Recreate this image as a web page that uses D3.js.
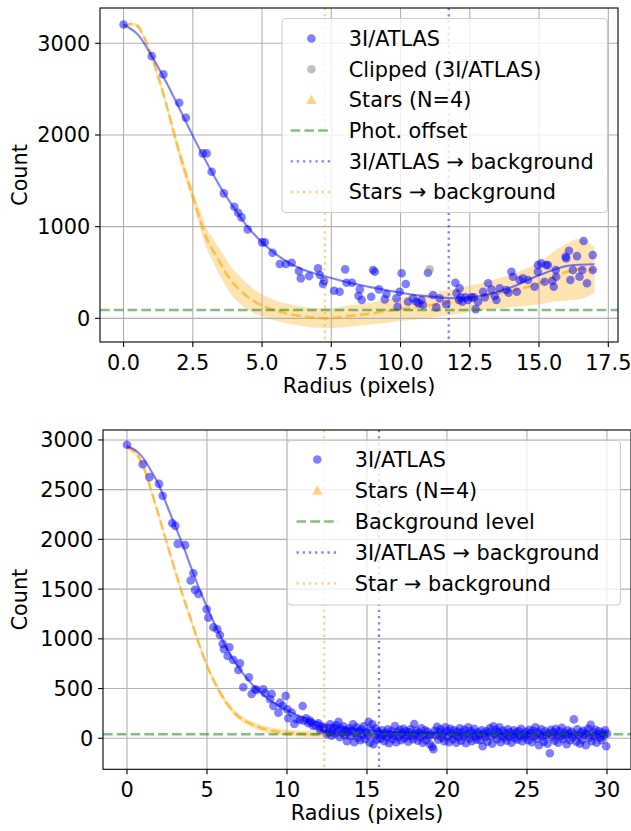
<!DOCTYPE html>
<html><head><meta charset="utf-8">
<script src="https://cdn.jsdelivr.net/npm/d3@7"></script>
<style>
html,body{margin:0;padding:0;background:#fff;}
svg{display:block;font-family:"DejaVu Sans",sans-serif;}
</style></head>
<body>
<svg id="c" width="631" height="831"></svg>
<script>
// ---------------- DATA: top panel ----------------
const topPtsR = [0,1.02,1.44,2.01,2.25,2.86,3.0,3.18,3.62,4.0,4.14,4.26,4.48,5.0,5.1,5.38,5.64,5.86,6.07,6.33,6.40,6.70,7.02,7.09,7.2,7.24,7.6,7.8,8.0,8.05,8.25,8.48,8.53,8.6,8.94,9.01,9.07,9.22,9.43,9.49,9.85,9.89,9.97,10.04,10.19,10.27,10.45,10.57,10.66,10.75,10.81,10.99,11.17,11.29,11.41,11.65,11.98,12.02,12.11,12.13,12.17,12.23,12.34,12.43,12.56,12.64,12.71,12.8,12.98,13.04,13.16,13.28,13.4,13.46,13.58,13.82,13.9,14.0,14.06,14.2,14.3,14.42,14.6,14.84,14.96,14.96,15.08,15.2,15.26,15.32,15.48,15.53,15.6,15.62,15.96,15.98,16.08,16.13,16.22,16.37,16.46,16.56,16.61,16.73,16.94,16.94];
const topPtsC = [3205,2860,2661,2351,2188,1799,1799,1599,1363,1217,1152,1101,970,829,829,716,592,592,606,516,436,461,545,472,374,407,301,290,534,388,388,246,316,200,236,527,508,316,207,265,218,127,290,491,374,181,218,181,164,200,145,497,254,120,218,153,388,273,200,327,229,181,229,200,229,229,101,181,290,229,382,316,243,200,327,309,279,508,454,290,418,436,418,345,581,508,600,399,581,581,407,345,527,454,672,654,737,418,527,679,454,527,843,382,690,527];
const topClipR = [11.05];
const topClipC = [534];
const topFitR = [0,0.5,1,1.5,2,2.5,3,3.5,4,4.5,5,5.5,6,6.5,7,8,9,10,11,12,13,14,15,16,17];
const topFitC = [3205,3100,2870,2600,2300,1990,1700,1430,1200,990,830,700,600,530,480,400,335,280,240,220,250,340,470,570,590];
const topStarR = [0,0.25,0.5,0.75,1,1.25,1.5,1.75,2,2.25,2.5,2.75,3,3.25,3.5,3.75,4,4.5,5,5.5,6,6.5,7,7.5,8,9,10,11,12,13,14,15,15.5,16,16.5,17];
const topStarC = [3170,3210,3190,3060,2870,2640,2380,2100,1820,1570,1330,1090,870,730,600,470,370,230,140,85,45,20,5,2,20,55,100,140,185,240,300,380,450,505,540,525];
const topStarLo = [3158,3195,3170,3035,2840,2605,2340,2050,1760,1500,1260,1000,760,600,455,320,220,90,20,-25,-63,-85,-103,-108,-95,-65,-30,5,45,90,120,150,180,195,210,275];
const topStarHi = [3182,3225,3210,3085,2900,2675,2420,2150,1880,1640,1400,1180,980,860,745,620,520,370,260,195,153,125,113,112,135,175,230,275,325,390,480,610,720,815,870,775];
const topBg = 90;
const topAtlasEdge = 11.74;
const topStarEdge = 7.27;
const topXTicks = [0,2.5,5,7.5,10,12.5,15,17.5];
const topYTicks = [0,1000,2000,3000];
const topLegend = ["3I/ATLAS","Clipped (3I/ATLAS)","Stars (N=4)","Phot. offset","3I/ATLAS \u2192 background","Stars \u2192 background"];

// ---------------- DATA: bottom panel ----------------
const botPtsR = [0,0.98,1.4,2.0,2.23,2.83,3.02,3.17,3.63,4.15,3.98,4.25,4.46,4.98,5.08,5.4,5.64,5.81,5.98,6.06,6.4,6.29,6.64,6.96,7.06,7.27,7.62,7.79,8.0,8.1,8.52,8.63,8.94,9.04,9.15,9.46,9.56,9.92,9.73,10.02,10.08,10.29,10.46,10.6,10.81,10.98,11.06,11.33,11.44,11.64,11.96,12.06,12.27,12.48,11.2,11.5,11.8,12.1,12.3,
12.55,12.62,12.7,12.78,12.85,12.93,13.0,13.08,13.15,13.22,13.3,13.37,13.45,13.52,13.6,13.68,13.75,13.83,13.9,13.98,14.05,14.13,14.2,14.28,14.35,14.43,14.5,14.58,14.65,14.73,14.8,14.88,14.95,15.03,15.1,15.18,15.25,15.33,15.4,15.48,15.55,15.63,15.7,15.78,15.85,15.93,16.0,16.08,16.15,16.23,16.3,16.38,16.45,16.53,16.6,16.68,16.75,16.83,16.9,16.98,17.05,17.13,17.2,17.28,17.35,17.43,17.5,17.58,17.65,17.73,17.8,17.88,17.95,18.03,18.1,18.18,18.25,18.33,18.4,18.48,18.55,18.63,18.7,18.78,18.85,18.93,19.0,19.08,19.15,19.23,19.3,19.38,19.45,19.53,19.6,19.68,19.75,19.83,19.9,19.98,20.05,20.13,20.2,20.28,20.35,20.43,20.5,20.58,20.65,20.73,20.8,20.88,20.95,21.03,21.1,21.18,21.25,21.33,21.4,21.48,21.55,21.63,21.7,21.78,21.85,21.93,22.0,22.08,22.15,22.23,22.3,22.38,22.45,22.53,22.6,22.68,22.75,22.83,22.9,22.98,23.05,23.13,23.2,23.28,23.35,23.43,23.5,23.58,23.65,23.73,23.8,23.88,23.95,24.03,24.1,24.18,24.25,24.33,24.4,24.48,24.55,24.63,24.7,24.78,24.85,24.93,25.0,25.08,25.15,25.23,25.3,25.38,25.45,25.53,25.6,25.68,25.75,25.83,25.9,25.98,26.05,26.13,26.2,26.28,26.35,26.43,26.5,26.58,26.65,26.73,26.8,26.88,26.95,27.03,27.1,27.18,27.25,27.33,27.4,27.48,27.55,27.63,27.7,27.78,27.85,27.93,28.0,28.08,28.15,28.23,28.3,28.38,28.45,28.53,28.6,28.68,28.75,28.83,28.9,28.98,29.05,29.13,29.2,29.28,29.35,29.43,29.5,29.58,29.65,29.73,29.8,29.88,29.95,30.0];
const botPtsC = [2951,2756,2626,2558,2438,2163,2136,1955,1942,1660,1586,1492,1452,1298,1213,1117,1097,1039,949,895,915,828,788,687,755,513,614,446,493,486,493,453,392,446,325,258,358,426,325,292,201,258,144,191,184,325,177,151,177,124,151,84,107,43,200,160,130,110,95,
90,60,140,25,75,110,45,130,70,165,10,95,55,120,30,80,-30,60,100,20,75,140,-40,50,110,5,70,-20,90,40,120,-10,60,30,165,-45,85,140,-60,20,100,-15,65,45,-5,80,35,-30,55,10,90,-50,40,70,-10,25,124,-40,60,15,85,-20,50,95,0,70,30,-35,60,90,20,-10,144,45,75,-25,55,10,100,-45,35,80,-20,65,20,-60,40,-85,-110,75,30,115,-15,60,90,5,45,-30,110,70,20,-40,95,50,-10,80,30,-45,65,10,100,-25,55,20,85,-50,40,110,0,70,-30,50,95,15,-15,60,35,-20,80,-80,45,10,70,-35,55,100,20,-55,120,40,85,-10,60,110,-40,30,75,5,50,-25,90,15,60,-45,35,80,0,55,-15,70,25,95,-30,45,10,65,30,-20,85,50,-40,75,20,110,-5,60,-70,40,90,15,-35,70,30,-55,50,-150,85,10,60,-25,95,35,-45,70,20,105,-10,55,30,-60,80,45,-20,65,10,190,40,-35,90,25,-55,60,-15,75,35,-70,50,95,5,135,-30,60,20,85,-45,40,70,10,-20,55,30,80,-80,45];
const botFitR = [0,0.5,1,1.5,2,2.5,3,3.5,4,4.5,5,5.5,6,6.5,7,8,9,10,11,12,13,14,15,17,20,25,30];
const botFitC = [2935,2900,2820,2690,2545,2340,2140,1940,1720,1510,1320,1140,975,830,705,510,375,280,210,158,122,97,80,62,50,43,40];
const botStarR = [0,0.5,1,1.5,2,2.5,3,3.5,4,4.5,5,5.5,6,6.5,7,7.5,8,9,10,11,12,14,16,20,25,29,30];
const botStarC = [2930,2880,2740,2500,2230,1960,1690,1430,1190,950,730,555,410,295,215,165,125,78,57,45,40,30,20,15,15,15,-15];
const botBandHalf = 30;
const botBg = 40;
const botAtlasEdge = 15.75;
const botStarEdge = 12.33;
const botXTicks = [0,5,10,15,20,25,30];
const botYTicks = [0,500,1000,1500,2000,2500,3000];
const botLegend = ["3I/ATLAS","Stars (N=4)","Background level","3I/ATLAS \u2192 background","Star \u2192 background"];

// ---------------- DRAW ----------------
const svg = d3.select("#c");
const FS = 20.8;
const BLUE = "blue", ORANGE = "orange", GREEN = "green";

function panel(o) {
  const x = d3.scaleLinear().domain(o.xd).range([o.x0, o.x1]);
  const y = d3.scaleLinear().domain(o.yd).range([o.y1, o.y0]);
  const g = svg.append("g");
  const cid = "clip" + o.id;
  svg.append("clipPath").attr("id", cid).append("rect")
    .attr("x", o.x0).attr("y", o.y0).attr("width", o.x1 - o.x0).attr("height", o.y1 - o.y0);
  const pg = g.append("g").attr("clip-path", `url(#${cid})`);

  // band
  const bandData = o.starR.map((r, i) => ({r, lo: o.starLo[i], hi: o.starHi[i]}));
  pg.append("path").datum(bandData)
    .attr("d", d3.area().x(d => x(d.r)).y0(d => y(d.lo)).y1(d => y(d.hi)).curve(d3.curveCatmullRom.alpha(0.5)))
    .attr("fill", ORANGE).attr("fill-opacity", 0.3);

  // grid
  pg.selectAll(".gx").data(o.xt).enter().append("line")
    .attr("x1", d => x(d)).attr("x2", d => x(d)).attr("y1", o.y0).attr("y2", o.y1)
    .attr("stroke", "#b0b0b0").attr("stroke-width", 1.1);
  pg.selectAll(".gy").data(o.yt).enter().append("line")
    .attr("y1", d => y(d)).attr("y2", d => y(d)).attr("x1", o.x0).attr("x2", o.x1)
    .attr("stroke", "#b0b0b0").attr("stroke-width", 1.1);

  const line = d3.line().x(d => x(d[0])).y(d => y(d[1])).curve(d3.curveCatmullRom.alpha(0.5));
  // star dashed
  pg.append("path").datum(o.starR.map((r, i) => [r, o.starC[i]]))
    .attr("d", line).attr("fill", "none").attr("stroke", ORANGE).attr("stroke-opacity", 0.6)
    .attr("stroke-width", 2.6).attr("stroke-dasharray", "9.6,4.2");
  // fit line
  pg.append("path").datum(o.fitR.map((r, i) => [r, o.fitC[i]]))
    .attr("d", line).attr("fill", "none").attr("stroke", BLUE).attr("stroke-opacity", 0.5)
    .attr("stroke-width", 2.1);
  // points
  pg.selectAll(".pt").data(o.ptsR.map((r, i) => [r, o.ptsC[i]])).enter().append("circle")
    .attr("cx", d => x(d[0])).attr("cy", d => y(d[1])).attr("r", 4.3)
    .attr("fill", BLUE).attr("fill-opacity", 0.5);
  if (o.clipR) {
    pg.selectAll(".cp").data(o.clipR.map((r, i) => [r, o.clipC[i]])).enter().append("circle")
      .attr("cx", d => x(d[0])).attr("cy", d => y(d[1])).attr("r", 4.3)
      .attr("fill", "gray").attr("fill-opacity", 0.5);
  }
  // background level
  pg.append("line").attr("x1", o.x0).attr("x2", o.x1).attr("y1", y(o.bg)).attr("y2", y(o.bg))
    .attr("stroke", GREEN).attr("stroke-opacity", 0.5).attr("stroke-width", 2.5).attr("stroke-dasharray", "9.6,4.2");
  // vertical edges
  pg.append("line").attr("x1", x(o.starEdge)).attr("x2", x(o.starEdge)).attr("y1", o.y0).attr("y2", o.y1)
    .attr("stroke", ORANGE).attr("stroke-opacity", 0.5).attr("stroke-width", 2.3).attr("stroke-dasharray", "2.3,3.9");
  pg.append("line").attr("x1", x(o.atlasEdge)).attr("x2", x(o.atlasEdge)).attr("y1", o.y0).attr("y2", o.y1)
    .attr("stroke", BLUE).attr("stroke-opacity", 0.5).attr("stroke-width", 2.3).attr("stroke-dasharray", "2.3,3.9");

  // spines
  g.append("rect").attr("x", o.x0).attr("y", o.y0).attr("width", o.x1 - o.x0).attr("height", o.y1 - o.y0)
    .attr("fill", "none").attr("stroke", "#000").attr("stroke-width", 1.1);

  // ticks
  g.selectAll(".tx").data(o.xt).enter().append("line")
    .attr("x1", d => x(d)).attr("x2", d => x(d)).attr("y1", o.y1).attr("y2", o.y1 + 4.9)
    .attr("stroke", "#000").attr("stroke-width", 1.1);
  g.selectAll(".txl").data(o.xt).enter().append("text")
    .attr("x", d => x(d)).attr("y", o.y1 + 28).attr("text-anchor", "middle")
    .attr("font-size", FS).attr("fill", "#000").text(o.xfmt);
  g.selectAll(".ty").data(o.yt).enter().append("line")
    .attr("y1", d => y(d)).attr("y2", d => y(d)).attr("x1", o.x0).attr("x2", o.x0 - 4.9)
    .attr("stroke", "#000").attr("stroke-width", 1.1);
  g.selectAll(".tyl").data(o.yt).enter().append("text")
    .attr("x", o.x0 - 9.8).attr("y", d => y(d)).attr("dy", "0.36em").attr("text-anchor", "end")
    .attr("font-size", FS).attr("fill", "#000").text(d => String(d));

  // axis labels
  g.append("text").attr("x", (o.x0 + o.x1) / 2).attr("y", o.y1 + 51).attr("text-anchor", "middle")
    .attr("font-size", FS).text("Radius (pixels)");
  g.append("text").attr("transform", `translate(27,${(o.y0 + o.y1) / 2}) rotate(-90)`)
    .attr("text-anchor", "middle").attr("font-size", FS).text("Count");

  // legend
  const L = o.legend;
  const lg = g.append("g");
  lg.append("rect").attr("x", L.x0).attr("y", L.y0).attr("width", L.x1 - L.x0).attr("height", L.y1 - L.y0)
    .attr("rx", 4).attr("fill", "#fff").attr("fill-opacity", 0.8).attr("stroke", "#cccccc").attr("stroke-width", 1.1);
  L.items.forEach((it, i) => {
    const cy = L.rowY0 + i * L.rowH;
    const hx0 = L.hx0, hx1 = L.hx0 + 41.6, hm = (hx0 + hx1) / 2;
    if (it.kind === "dot") {
      lg.append("circle").attr("cx", hm).attr("cy", cy).attr("r", 4.3).attr("fill", it.color).attr("fill-opacity", 0.5);
    } else if (it.kind === "tri") {
      const s = 5.2;
      lg.append("path").attr("d", `M${hm},${cy - s}L${hm + s},${cy + s * 0.8}L${hm - s},${cy + s * 0.8}Z`)
        .attr("fill", it.color).attr("fill-opacity", 0.5);
    } else {
      lg.append("line").attr("x1", hx0).attr("x2", hx1).attr("y1", cy).attr("y2", cy)
        .attr("stroke", it.color).attr("stroke-opacity", 0.5)
        .attr("stroke-width", it.kind === "dash" ? 2.5 : 2.3)
        .attr("stroke-dasharray", it.kind === "dash" ? "9.6,4.2" : "2.3,3.9");
    }
    lg.append("text").attr("x", hx1 + 16.6).attr("y", cy).attr("dy", "0.36em")
      .attr("font-size", FS).attr("fill", "#000").text(it.label);
  });
}

panel({
  id: "top", x0: 100, x1: 618, y0: 8, y1: 342,
  xd: [-0.85, 17.85], yd: [-258, 3385],
  xt: topXTicks, yt: topYTicks, xfmt: d => d3.format(".1f")(d),
  ptsR: topPtsR, ptsC: topPtsC, clipR: topClipR, clipC: topClipC,
  fitR: topFitR, fitC: topFitC,
  starR: topStarR, starC: topStarC, starLo: topStarLo, starHi: topStarHi,
  bg: topBg, atlasEdge: topAtlasEdge, starEdge: topStarEdge,
  legend: {
    x0: 282, x1: 607.5, y0: 18.5, y1: 212.5, rowY0: 38.5, rowH: 30.7, hx0: 290.6,
    items: [
      {kind: "dot", color: BLUE, label: topLegend[0]},
      {kind: "dot", color: "gray", label: topLegend[1]},
      {kind: "tri", color: ORANGE, label: topLegend[2]},
      {kind: "dash", color: GREEN, label: topLegend[3]},
      {kind: "dot2", color: BLUE, label: topLegend[4]},
      {kind: "dot2", color: ORANGE, label: topLegend[5]}
    ]
  }
});

panel({
  id: "bot", x0: 103, x1: 631, y0: 430, y1: 769.3,
  xd: [-1.5, 31.5], yd: [-312, 3100],
  xt: botXTicks, yt: botYTicks, xfmt: d => String(d),
  ptsR: botPtsR, ptsC: botPtsC,
  fitR: botFitR, fitC: botFitC,
  starR: botStarR, starC: botStarC,
  starLo: botStarC.map(v => v - botBandHalf), starHi: botStarC.map(v => v + botBandHalf),
  bg: botBg, atlasEdge: botAtlasEdge, starEdge: botStarEdge,
  legend: {
    x0: 287.5, x1: 620.5, y0: 440.5, y1: 605, rowY0: 459.5, rowH: 31, hx0: 296.5,
    items: [
      {kind: "dot", color: BLUE, label: botLegend[0]},
      {kind: "tri", color: ORANGE, label: botLegend[1]},
      {kind: "dash", color: GREEN, label: botLegend[2]},
      {kind: "dot2", color: BLUE, label: botLegend[3]},
      {kind: "dot2", color: ORANGE, label: botLegend[4]}
    ]
  }
});
</script>
</body></html>
